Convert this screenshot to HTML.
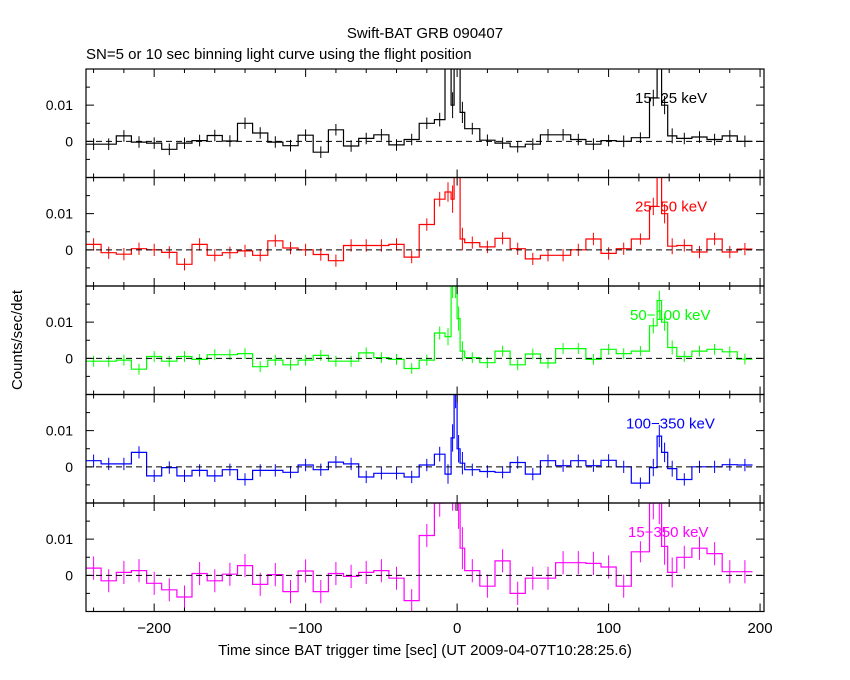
<!DOCTYPE html>
<html><head><meta charset="utf-8"><style>
body{margin:0;background:#fff;}
svg{display:block;font-family:"Liberation Sans",sans-serif;}
</style></head><body>
<svg id="chart" width="850" height="680" viewBox="0 0 850 680" xmlns="http://www.w3.org/2000/svg">
<rect width="850" height="680" fill="#fff"/>
<text x="425" y="38" font-size="15" text-anchor="middle">Swift-BAT GRB 090407</text>
<text x="86" y="59" font-size="15">SN=5 or 10 sec binning light curve using the flight position</text>
<text x="0" y="0" font-size="15" text-anchor="middle" transform="translate(22,340) rotate(-90)">Counts/sec/det</text>
<text x="425" y="655" font-size="15" text-anchor="middle">Time since BAT trigger time [sec] (UT 2009-04-07T10:28:25.6)</text>
<g id="plots"></g>
</svg>
<script>
const edges=[-245,-235,-225,-215,-205,-195,-185,-175,-165,-155,-145,-135,-125,-115,-105,-95,-85,-75,-65,-55,-45,-35,-25,-15,-8,-4,-2,0,2,5,15,25,35,45,55,65,75,85,95,105,115,127,132,135,139,145,155,165,175,185,195];
const band1=[-0.8,-0.8,1.5,-0.2,-0.5,-2.2,-0.5,0.2,1.6,0.1,5,2.3,-0.2,-1.2,1.7,-3,3.2,-1.3,0.8,1.8,-1,0.5,5,6,27,10,25,30,8,3.5,0.3,-0.5,-1.5,-0.8,1.8,1.8,0.5,-0.8,0.2,0,1,12,30,10,1.5,0.8,1.2,0.5,1.5,0];
const band2=[1.5,-0.8,-1.2,0.3,0,-0.7,-4,1.5,-1.5,-0.8,-0.3,-1.5,2.5,0.5,0,-1.3,-3,1.2,1.2,1.2,1.5,-2,7,14,16,14,30,30,3,2,0.8,3.2,0.3,-2.5,-1.5,-1.5,0,3,-1,0.3,3,12,25,10,1,1.2,-0.6,3,-0.6,0.2];
const band3=[-0.8,-0.8,-0.5,-3,0.5,-0.8,0.5,-0.3,1,1,1.3,-2.3,-0.5,-1.8,-0.5,0.8,-0.8,-0.8,1.5,0.2,-0.3,-2.8,-0.5,7,6,20,20,11,2,0.2,-1.2,2,-1.8,1.2,-1.3,2.7,2.7,-0.3,2.5,1.3,2,9,16,10,3,0.5,2,2.5,1.8,-0.2];
const band4=[1.7,0.8,0.8,4,-2.5,-0.2,-2.5,-1,-2.5,-0.8,-3.5,-1,-1,-1.5,0.5,-0.8,1.3,0.8,-2.8,-1.8,-1.8,-2.8,0.5,3.5,-2,8,20,5,1,-0.8,-1.3,-1.5,1.2,-2,1.7,0.3,1.7,0.3,1.8,0,-4.5,-0.2,8.5,4,-0.5,-3.5,0,0,0.6,0.5];
const band5=[2,-1.5,0.8,1.3,-2.2,-4,-6,0.5,-1.5,0.3,2.7,-2.5,0.2,-4.5,1.2,-4.5,0.5,-0.3,0.8,1.3,-0.8,-7,11,20,25,25,25,20,7.5,1.3,-3,4,-5,-0.8,-0.8,3.5,3.5,3.3,2.3,-3,6.5,20,20,8,0.8,5,7.5,6,1,1];
const bandErr=[1.6,1.7,1.5,1.7,3.2];
const bandLabels=["15\u221225 keV","25\u221250 keV","50\u2212100 keV","100\u2212350 keV","15\u2212350 keV"];
const bandColors=["#000000","#ff0000","#00ff00","#0000ff","#ff00ff"];
const xTicks=[-200,-100,0,100,200];
const yTickLabels=["0","0.01"];
const yTickVals=[0,0.01];
const bands=[band1,band2,band3,band4,band5];

const NS="http://www.w3.org/2000/svg";
const X0=86,X1=764,TMIN=-245,TMAX=202.6;
const PT=[69,177.5,286,394.5,503],PH=108.5,YMIN=-0.01,YMAX=0.02;
function xs(t){return X0+(t-TMIN)/(TMAX-TMIN)*(X1-X0);}
function ysf(p){return v=>PT[p]+PH-(v-YMIN)/(YMAX-YMIN)*PH;}
function mk(tag,attrs,parent){const e=document.createElementNS(NS,tag);for(const k in attrs)e.setAttribute(k,attrs[k]);parent.appendChild(e);return e;}
const root=document.getElementById('plots');
for(let p=0;p<5;p++){
  const ys=ysf(p);const top=PT[p],bot=PT[p]+PH;
  const g=mk('g',{},root);
  
  
  const cp=mk('clipPath',{id:'c'+p},g);mk('rect',{x:X0,y:top,width:X1-X0,height:PH},cp);
  const col=bandColors[p];const vals=bands[p];
  const dg=mk('g',{'clip-path':'url(#c'+p+')'},g);
  let path='';
  for(let i=0;i<vals.length;i++){
    const v=vals[i]/1000,xa=xs(edges[i]),xb=xs(edges[i+1]),y=ys(v);
    path+=(i===0?'M':'L')+xa.toFixed(1)+','+y.toFixed(1)+'L'+xb.toFixed(1)+','+y.toFixed(1);
  }
  const ln=mk('path',{d:path,fill:'none',stroke:col,'stroke-width':1.2},dg);
  
  
  let ep='';
  for(let i=0;i<vals.length;i++){
    const w=edges[i+1]-edges[i];const e=bandErr[p]*Math.sqrt(10/w)/1000;const v=vals[i]/1000;
    const xc=xs((edges[i]+edges[i+1])/2);
    ep+='M'+xc.toFixed(1)+','+ys(v+e).toFixed(1)+'V'+ys(v-e).toFixed(1);
  }
  const er=mk('path',{d:ep,fill:'none',stroke:col,'stroke-width':1},dg);
  
  
  const z=mk('line',{x1:X0,x2:X1,y1:ys(0),y2:ys(0),stroke:'#000','stroke-dasharray':'6,4','stroke-width':1},g);
  
  
  const fr=mk('rect',{x:X0,y:top,width:X1-X0,height:PH,fill:'none',stroke:'#000','stroke-width':1.2},g);
  
  
  let tk='';
  for(let t=-240;t<=200;t+=20){const x=xs(t);const L=(t%100===0)?8:4;tk+='M'+x+','+bot+'v-'+L+'M'+x+','+top+'v'+L;}
  for(let k=-2;k<=4;k++){const v=k*0.005;if(v<=YMIN||v>=YMAX)continue;const y=ys(v);const L=(k%2===0)?8:4;tk+='M'+X0+','+y+'h'+L+'M'+X1+','+y+'h-'+L;}
  mk('path',{d:tk,stroke:'#000','stroke-width':1,fill:'none'},g);
  for(let j=0;j<yTickVals.length;j++){
    const t=mk('text',{x:73,y:ys(yTickVals[j])+5,'font-size':14,'text-anchor':'end'},g);
    
    
    t.textContent=yTickLabels[j];
  }
  const lb=mk('text',{x:[635,635,630,626,628][p],y:top+34,'font-size':15,fill:col},g);
  
  
  lb.textContent=bandLabels[p];
}
for(const t of xTicks){
  const tx=mk('text',{x:xs(t),y:633,'font-size':15,'text-anchor':'middle'},root);
  
  
  tx.textContent=String(t).replace('-','\u2212');
}
</script>
</body></html>
